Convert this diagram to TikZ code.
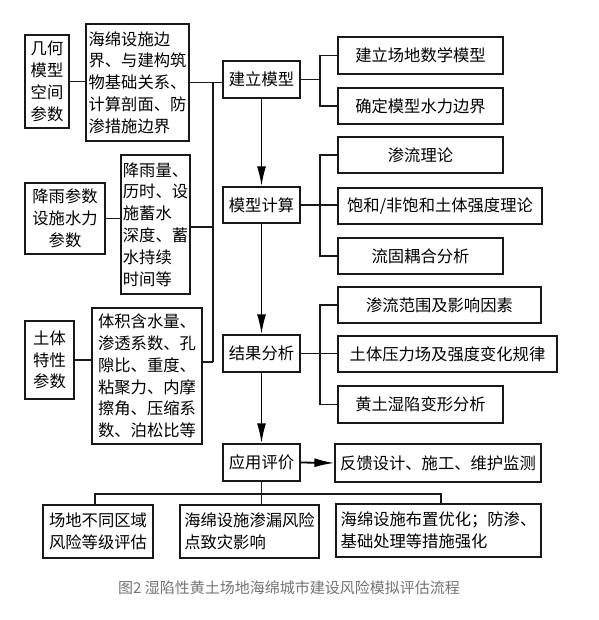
\documentclass[tikz,border=0pt]{standalone}
\usepackage{fontspec}
\newfontfamily\cjk{Noto Sans CJK SC}
\usetikzlibrary{arrows.meta}
\begin{document}
\begin{tikzpicture}[x=1pt,y=-1pt,
  bx/.style={draw=black!90, line width=1.3pt, inner sep=0pt, text=black,
     font=\cjk\fontsize{16.3}{21.8}\selectfont},
  lbx/.style={bx, align=left},
  cbx/.style={bx, align=center},
  conn/.style={draw=black!90, line width=1.1pt},
  flow/.style={draw=black, line width=1.8pt, -{Latex[length=20pt,width=9pt]}},
  captext/.style={text=black!55, font=\cjk\fontsize{15}{18}\selectfont}]
\useasboundingbox (0,0) rectangle (598,620);
% left parameter boxes
\node[cbx, minimum width=44, minimum height=93] (jh) at (47,81.5) {几何\\模型\\空间\\参数};
\node[lbx, minimum width=103, minimum height=117] (hm) at (137.5,82.5) {海绵设施边\\界、与建构筑\\物基础关系、\\计算剖面、防\\渗措施边界};
\node[cbx, minimum width=80, minimum height=71] (ly) at (65,218.5) {降雨参数\\设施水力\\参数};
\node[lbx, minimum width=69, minimum height=139] (lv) at (155.5,224.5) {降雨量、\\历时、设\\施蓄水\\深度、蓄\\水持续\\时间等};
\node[cbx, minimum width=49, minimum height=78] (tt) at (49.5,360) {土体\\特性\\参数};
\node[lbx, minimum width=110, minimum height=136] (tj) at (147,376) {体积含水量、\\渗透系数、孔\\隙比、重度、\\粘聚力、内摩\\擦角、压缩系\\数、泊松比等};
% main chain
\node[cbx, minimum width=77, minimum height=37] (jl) at (261.5,79.5) {建立模型};
\node[cbx, minimum width=77, minimum height=36] (mc) at (261.5,205) {模型计算};
\node[cbx, minimum width=77, minimum height=37] (jg) at (261.5,353.5) {结果分析};
\node[cbx, minimum width=77, minimum height=37] (yy) at (261.5,462.5) {应用评价};
% right boxes
\node[cbx, minimum width=165, minimum height=37] (r1) at (420.5,55.5) {建立场地数学模型};
\node[cbx, minimum width=165, minimum height=36] (r2) at (420.5,106) {确定模型水力边界};
\node[cbx, minimum width=165, minimum height=36] (r3) at (420.5,155) {渗流理论};
\node[cbx, minimum width=204, minimum height=36] (r4) at (440,206) {饱和/非饱和土体强度理论};
\node[cbx, minimum width=165, minimum height=36] (r5) at (420.5,256) {流固耦合分析};
\node[cbx, minimum width=203, minimum height=36] (r6) at (439.5,305) {渗流范围及影响因素};
\node[cbx, minimum width=219, minimum height=36] (r7) at (447.5,354) {土体压力场及强度变化规律};
\node[cbx, minimum width=165, minimum height=37] (r8) at (420.5,404.5) {黄土湿陷变形分析};
\node[cbx, minimum width=206, minimum height=38] (fb) at (438,463) {反馈设计、施工、维护监测};
% bottom boxes
\node[lbx, minimum width=110, minimum height=53] (b1) at (98,531.5) {场地不同区域\\风险等级评估};
\node[lbx, minimum width=139, minimum height=53] (b2) at (249.5,531.5) {海绵设施渗漏风险\\点致灾影响};
\node[lbx, minimum width=205, minimum height=53] (b3) at (438.5,530.5) {海绵设施布置优化；防渗、\\基础处理等措施强化};
% caption
\node[captext] (capt) at (289,588) {图2 湿陷性黄土场地海绵城市建设风险模拟评估流程};
% left connectors and bus
\coordinate (busT) at (213,82.5);
\coordinate (busR) at (213,227);
\coordinate (busB) at (213,362);
\draw[conn] (jh.east) -- (jh.east -| hm.west);
\draw[conn] (hm.east) -- (busT) -- (busT -| jl.west);
\draw[conn] (busT) -- (busB);
\draw[conn] (ly.east) -- (ly.east -| lv.west);
\draw[conn] (busR -| lv.east) -- (busR);
\draw[conn] (tt.east) -- (tt.east -| tj.west);
\draw[conn] (busB -| tj.east) -- (busB);
% right branches
\coordinate (k1) at (320,79.5);
\coordinate (k2) at (320,205);
\coordinate (k3) at (320,353.5);
\draw[conn] (jl.east) -- (k1);
\draw[conn] (r1.west) -- (r1.west -| k1) -- (r2.west -| k1) -- (r2.west);
\draw[conn] (mc.east) -- (mc.east -| r4.west);
\draw[conn] (r3.west) -- (r3.west -| k2) -- (r5.west -| k2) -- (r5.west);
\draw[conn] (jg.east) -- (jg.east -| r7.west);
\draw[conn] (r6.west) -- (r6.west -| k3) -- (r8.west -| k3) -- (r8.west);
% main flow arrows
\draw[flow] (jl.south) -- (mc.north);
\draw[flow] (mc.south) -- (jg.north);
\draw[flow] (jg.south) -- (yy.north);
\draw[flow] (yy.east) -- (fb.west);
% bottom bus
\coordinate (bl) at (95,494);
\coordinate (br) at (441,494);
\draw[conn] (yy.south) -- (yy.south |- b2.north);
\draw[conn] (bl |- b1.north) -- (bl) -- (br) -- (br |- b3.north);
\end{tikzpicture}
\end{document}
